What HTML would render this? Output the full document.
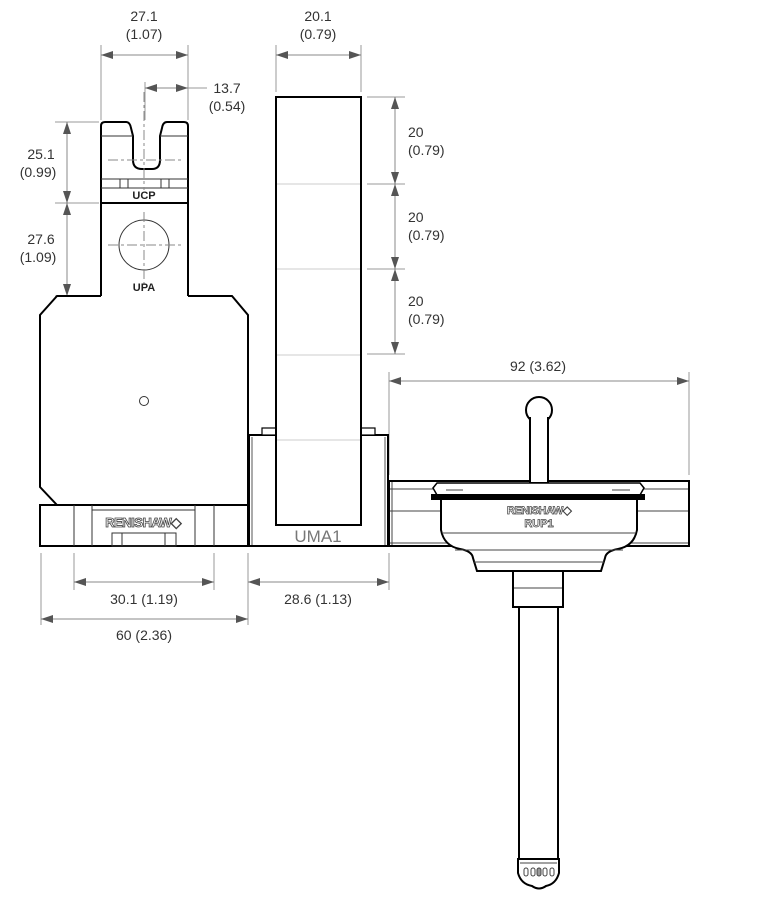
<!DOCTYPE html>
<html><head><meta charset="utf-8"><style>
html,body{margin:0;padding:0;background:#fff;}
svg{display:block;}
text{font-family:"Liberation Sans",sans-serif;}
</style></head><body>
<svg width="760" height="900" viewBox="0 0 760 900" xmlns="http://www.w3.org/2000/svg">
<defs>
<marker id="a" viewBox="0 0 12 8" refX="12" refY="4" markerWidth="12" markerHeight="8" orient="auto-start-reverse" markerUnits="userSpaceOnUse">
<path d="M0,0 L12,4 L0,8 z" fill="#555"/></marker>
</defs>
<g stroke="#999" stroke-width="1" fill="none">
<line x1="101" y1="45" x2="101" y2="120"/><line x1="188" y1="45" x2="188" y2="120"/>
<line x1="145" y1="82" x2="145" y2="120"/><line x1="188" y1="88" x2="207" y2="88"/>
<line x1="276" y1="45" x2="276" y2="92"/><line x1="361" y1="45" x2="361" y2="92"/>
<line x1="55" y1="122" x2="99" y2="122"/><line x1="55" y1="203" x2="99" y2="203"/><line x1="55" y1="296" x2="99" y2="296"/>
<line x1="367" y1="97" x2="405" y2="97"/><line x1="367" y1="184" x2="405" y2="184"/><line x1="367" y1="269" x2="405" y2="269"/><line x1="367" y1="354" x2="405" y2="354"/>
<line x1="389" y1="372" x2="389" y2="475"/><line x1="689" y1="372" x2="689" y2="475"/>
<line x1="41" y1="553" x2="41" y2="625"/><line x1="74" y1="553" x2="74" y2="590"/><line x1="214" y1="553" x2="214" y2="590"/>
<line x1="248" y1="553" x2="248" y2="625"/><line x1="389" y1="553" x2="389" y2="590"/>
</g>
<g stroke="#888" stroke-width="1" fill="none" marker-start="url(#a)" marker-end="url(#a)">
<line x1="101" y1="55" x2="188" y2="55"/>
<line x1="145" y1="88" x2="188" y2="88"/>
<line x1="276" y1="55" x2="361" y2="55"/>
<line x1="67" y1="122" x2="67" y2="203"/>
<line x1="67" y1="203" x2="67" y2="296"/>
<line x1="395" y1="97" x2="395" y2="184"/>
<line x1="395" y1="184" x2="395" y2="269"/>
<line x1="395" y1="269" x2="395" y2="354"/>
<line x1="389" y1="381" x2="689" y2="381"/>
<line x1="74" y1="582" x2="214" y2="582"/>
<line x1="248" y1="582" x2="389" y2="582"/>
<line x1="41" y1="619" x2="248" y2="619"/>
</g>
<g font-size="14" fill="#333" text-anchor="middle">
<text x="144" y="21">27.1</text><text x="144" y="39">(1.07)</text>
<text x="227" y="93">13.7</text><text x="227" y="111">(0.54)</text>
<text x="318" y="21">20.1</text><text x="318" y="39">(0.79)</text>
<text x="41" y="159">25.1</text><text x="38" y="177">(0.99)</text>
<text x="41" y="244">27.6</text><text x="38" y="262">(1.09)</text>
<text x="538" y="371">92 (3.62)</text>
<text x="144" y="604">30.1 (1.19)</text>
<text x="318" y="604">28.6 (1.13)</text>
<text x="144" y="640">60 (2.36)</text>
</g>
<g font-size="14" fill="#333">
<text x="408" y="137">20</text><text x="408" y="155">(0.79)</text>
<text x="408" y="222">20</text><text x="408" y="240">(0.79)</text>
<text x="408" y="306">20</text><text x="408" y="324">(0.79)</text>
</g>
<g stroke="#000" fill="#fff" stroke-width="2">
<path d="M101,296 L101,126 Q101,122 105,122 L126,122 Q130,122 131,128 L133,136 L133,160 Q133,169 142,169 L152,169 Q160,169 160,160 L160,136 L162,128 Q163,122 167,122 L184,122 Q188,122 188,126 L188,296"/>
<line x1="101" y1="203" x2="188" y2="203"/>
<path d="M101,296 L57,296 L40,315 L40,487 L57,505 L248,505 L248,315 L232,296 L188,296"/>
</g>
<g stroke="#333" stroke-width="1" fill="none">
<line x1="101" y1="136" x2="133" y2="136"/><line x1="160" y1="136" x2="188" y2="136"/>
<line x1="101" y1="179" x2="188" y2="179"/><line x1="101" y1="188" x2="188" y2="188"/>
<line x1="120" y1="179" x2="120" y2="188"/><line x1="128" y1="179" x2="128" y2="188"/>
<line x1="161" y1="179" x2="161" y2="188"/><line x1="169" y1="179" x2="169" y2="188"/>
<circle cx="144" cy="245" r="25"/>
<circle cx="144" cy="401" r="4.5"/>
</g>
<g stroke="#888" stroke-width="1" stroke-dasharray="10,3,3,3" fill="none">
<line x1="144" y1="92" x2="144" y2="190"/><line x1="108" y1="160" x2="183" y2="160"/>
<line x1="144" y1="212" x2="144" y2="285"/><line x1="108" y1="245" x2="183" y2="245"/>
</g>
<g font-size="11" font-weight="bold" fill="#222" text-anchor="middle">
<text x="144" y="199">UCP</text><text x="144" y="291">UPA</text>
</g>
<rect x="40" y="505" width="208" height="41" stroke="#000" stroke-width="2" fill="#fff"/>
<g stroke="#333" stroke-width="1" fill="none">
<line x1="74" y1="505" x2="74" y2="546"/><line x1="214" y1="505" x2="214" y2="546"/>
<line x1="92" y1="505" x2="92" y2="546"/><line x1="195" y1="505" x2="195" y2="546"/>
<line x1="92" y1="510" x2="195" y2="510"/>
<rect x="112" y="533" width="64" height="13"/>
<line x1="122" y1="533" x2="122" y2="546"/><line x1="165" y1="533" x2="165" y2="546"/>
</g>
<text x="143" y="527" font-size="13" font-weight="bold" fill="#fff" stroke="#444" stroke-width="0.8" text-anchor="middle" letter-spacing="-0.5">RENISHAW◆</text>
<g stroke="#000" stroke-width="2" fill="#fff">
<rect x="249" y="435" width="139" height="111"/>
<rect x="262" y="428" width="14" height="7" stroke-width="1.2"/>
<rect x="361" y="428" width="14" height="7" stroke-width="1.2"/>
<rect x="276" y="97" width="85" height="428"/>
</g>
<g stroke="#ccc" stroke-width="1">
<line x1="277" y1="184" x2="360" y2="184"/><line x1="277" y1="269" x2="360" y2="269"/>
<line x1="277" y1="355" x2="360" y2="355"/><line x1="277" y1="440" x2="360" y2="440"/>
</g>
<g stroke="#555" stroke-width="1"><line x1="252" y1="437" x2="252" y2="545"/><line x1="385" y1="437" x2="385" y2="545"/></g>
<text x="318" y="542" font-size="17" fill="#777" text-anchor="middle">UMA1</text>
<rect x="389" y="481" width="300" height="65" stroke="#000" stroke-width="2" fill="#fff"/>
<g stroke="#444" stroke-width="1">
<line x1="392" y1="482" x2="392" y2="545"/>
<line x1="390" y1="489" x2="688" y2="489"/>
<line x1="390" y1="511" x2="688" y2="511"/>
<line x1="390" y1="543" x2="688" y2="543"/>
</g>
<g stroke="#000" stroke-width="2" fill="#fff">
<circle cx="539" cy="410" r="13"/>
<rect x="530" y="418" width="18" height="65"/>
<rect x="531" y="414" width="16" height="8" stroke="none"/>
<path d="M437,483 L640,483 L644,488 L640,495 L437,495 L433,488 Z" stroke-width="1.5"/>
<rect x="432" y="495" width="212" height="4" fill="#000"/>
<path d="M441,499 L637,499 L637,530 Q634,546 618,549 Q606,551 605,558 L601,571 L477,571 L473,558 Q472,551 460,549 Q444,546 441,530 Z"/>
<rect x="513" y="571" width="50" height="36"/>
<rect x="519" y="607" width="39" height="252"/>
<path d="M518,859 L559,859 L559,873 Q556,884 546,886 Q539,891 532,886 Q521,884 518,873 Z"/>
</g>
<g stroke="#444" stroke-width="1" fill="none">
<line x1="446" y1="490" x2="463" y2="490"/><line x1="612" y1="490" x2="630" y2="490"/>
<line x1="442" y1="533" x2="636" y2="533"/>
<line x1="455" y1="550" x2="623" y2="550"/>
<line x1="474" y1="562" x2="604" y2="562"/>
<line x1="514" y1="588" x2="562" y2="588"/>
<line x1="520" y1="863" x2="557" y2="863"/>
<rect x="524" y="868" width="4" height="8" rx="2"/><rect x="531" y="868" width="4" height="8" rx="2"/>
<rect x="537" y="868" width="4" height="8" rx="2" fill="#999"/><rect x="543" y="868" width="4" height="8" rx="2"/><rect x="550" y="868" width="4" height="8" rx="2"/>
</g>
<g font-size="11" font-weight="bold" fill="#fff" stroke="#444" stroke-width="0.7" text-anchor="middle">
<text x="539" y="514" letter-spacing="-0.4">RENISHAW◆</text>
<text x="539" y="527">RUP1</text>
</g>
</svg>
</body></html>
